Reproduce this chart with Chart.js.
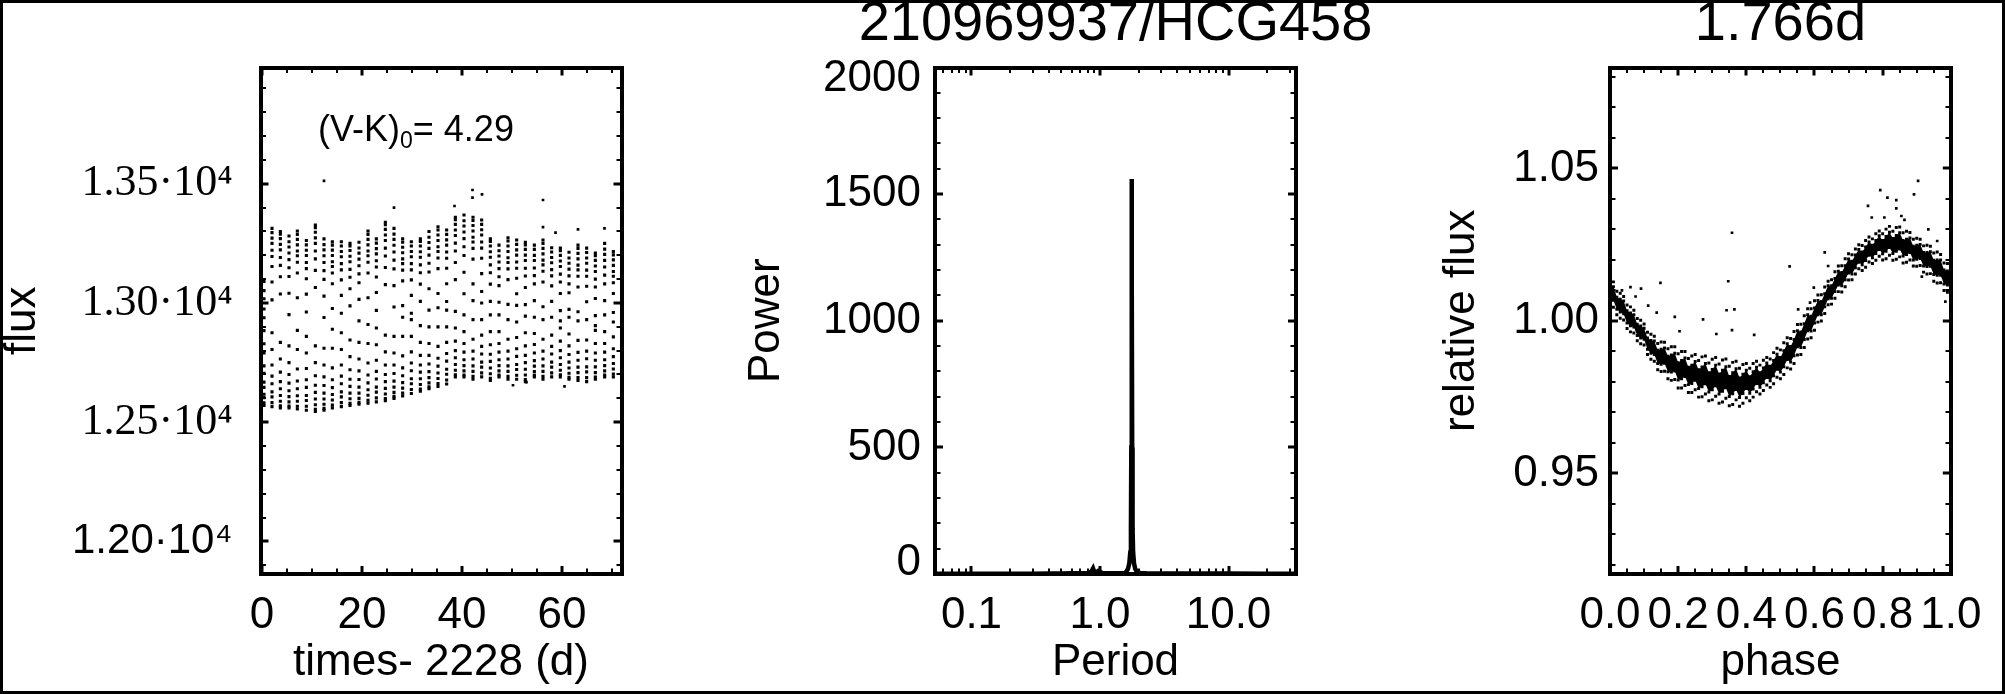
<!DOCTYPE html>
<html>
<head>
<meta charset="utf-8">
<script src="https://cdn.jsdelivr.net/npm/chart.js@4.4.1/dist/chart.umd.min.js"></script>
<style>
html,body{margin:0;padding:0;background:#fff;}
#fig{position:relative;width:2005px;height:694px;overflow:hidden;background:#fff;}
#fig canvas{position:absolute;top:0;}
#frame{position:absolute;left:0;top:0;width:2005px;height:694px;box-sizing:border-box;border:3px solid #000;pointer-events:none;}
#vk{position:absolute;left:318px;top:111px;font-family:'Liberation Sans',Arial,Helvetica,sans-serif;font-size:36px;line-height:36px;white-space:nowrap;color:#000;}
#vk span{font-size:23px;position:relative;top:7px;}
</style>
</head>
<body>
<div id="fig">
  <canvas id="c1" width="680" height="694" style="left:0px"></canvas>
  <canvas id="c2" width="871" height="694" style="left:680px"></canvas>
  <canvas id="c3" width="645" height="694" style="left:1360px"></canvas>
  <div id="vk">(V-K)<span>0</span>= 4.29</div>
  <div id="frame"></div>
</div>
<script>
// ---------------- Panel 1 : light curve (one column of dots per rotation cycle) ----------------
const lcTimes = [0.4, 2.0, 3.67, 5.4, 7.07, 8.87, 10.67, 12.4, 14.07, 15.87, 17.6, 19.4, 21.2, 22.87,
  24.67, 26.4, 28.13, 29.87, 31.67, 33.4, 35.2, 36.93, 38.67, 40.4, 42.2, 43.93, 45.67, 47.4,
  49.2, 50.93, 52.67, 54.47, 56.2, 57.93, 59.67, 61.4, 63.2, 64.93, 66.67, 68.53, 70.27];
const lcFlux = [
  [13090,13052,13018,12975,12938,12884,12829,12790,12736,12705,12668,12646,12617,12603,12581,12570],
  [13313,13295,13272,13250,13221,13195,13153,13088,13013,12875,12805,12740,12693,12661,12627,12606,12582,12565],
  [13300,13289,13270,13246,13223,13191,13158,13110,13038,12835,12765,12710,12670,12640,12612,12588,12569,12560],
  [13281,13257,13235,13210,13182,13148,13111,13041,12951,12820,12750,12700,12664,12632,12607,12585,12568,12560],
  [13302,13288,13267,13244,13218,13198,13171,13126,13022,12885,12805,12723,12673,12640,12611,12588,12567,12555],
  [13262,13244,13221,13199,13170,13144,13102,13037,12962,12860,12790,12725,12678,12646,12612,12591,12567,12550],
  [13327,13316,13297,13273,13250,13218,13185,13137,13065,12820,12750,12695,12655,12625,12597,12573,12554,12545],
  [13269,13245,13223,13198,13170,13136,13099,13029,12939,12810,12740,12690,12654,12622,12597,12575,12558,12550],
  [13257,13243,13222,13199,13173,13153,13126,13081,12977,12890,12810,12728,12678,12645,12616,12593,12572,12560],
  [13257,13239,13216,13194,13165,13139,13097,13032,12957,12875,12805,12740,12693,12661,12627,12606,12582,12565],
  [13250,13239,13220,13196,13173,13141,13108,13060,12988,12845,12775,12720,12680,12650,12622,12598,12579,12570],
  [13255,13231,13209,13184,13156,13122,13085,13015,12925,12835,12765,12715,12679,12647,12622,12600,12583,12575],
  [13302,13288,13267,13244,13218,13198,13171,13126,13022,12910,12830,12748,12698,12665,12636,12613,12592,12580],
  [13269,13251,13228,13206,13177,13151,13109,13044,12969,12895,12825,12760,12713,12681,12647,12626,12602,12585],
  [13339,13328,13309,13285,13262,13230,13197,13149,13077,12865,12795,12740,12700,12670,12642,12618,12599,12590],
  [13313,13289,13267,13242,13214,13180,13143,13073,12983,12860,12790,12740,12704,12672,12647,12625,12608,12600],
  [13269,13255,13234,13211,13185,13165,13138,13093,12989,12940,12860,12778,12728,12695,12666,12643,12622,12610],
  [13257,13239,13216,13194,13165,13139,13097,13032,12957,12930,12860,12795,12748,12716,12682,12661,12637,12620],
  [13269,13258,13239,13215,13192,13160,13127,13079,13007,12905,12835,12780,12740,12710,12682,12658,12639,12630],
  [13300,13276,13254,13229,13201,13167,13130,13060,12970,12900,12830,12780,12744,12712,12687,12665,12648,12640],
  [13320,13306,13285,13262,13236,13216,13189,13144,13040,12980,12900,12818,12768,12735,12706,12683,12662,12650],
  [13306,13288,13265,13243,13214,13188,13146,13081,13006,12970,12900,12835,12788,12756,12722,12701,12677,12660],
  [13360,13349,13330,13306,13283,13251,13218,13170,13098,12965,12895,12840,12800,12770,12742,12718,12699,12690],
  [13369,13345,13323,13298,13270,13236,13199,13129,13039,12950,12880,12830,12794,12762,12737,12715,12698,12690],
  [13360,13346,13325,13302,13276,13256,13229,13184,13080,13010,12930,12848,12798,12765,12736,12713,12692,12680],
  [13348,13330,13307,13285,13256,13230,13188,13123,13048,13000,12930,12865,12818,12786,12752,12731,12707,12690],
  [13269,13258,13239,13215,13192,13160,13127,13079,13007,12950,12880,12825,12785,12755,12727,12703,12684,12675],
  [13243,13219,13197,13172,13144,13110,13073,13003,12950,12880,12830,12794,12762,12737,12715,12698,12690],
  [13274,13260,13239,13216,13190,13170,13143,13098,12994,12930,12848,12798,12765,12736,12713,12692,12680],
  [13264,13246,13223,13201,13172,13146,13104,13039,12990,12920,12855,12808,12776,12742,12721,12697,12680],
  [13255,13244,13225,13201,13178,13146,13113,13065,12993,12945,12875,12820,12780,12750,12722,12698,12679,12670],
  [13243,13225,13200,13178,13147,13115,13080,13010,12940,12872,12826,12790,12758,12735,12712,12697,12690],
  [13264,13250,13229,13206,13180,13160,13133,13088,12984,12930,12848,12798,12765,12736,12713,12692,12680],
  [13232,13214,13191,13169,13140,13114,13072,13007,12940,12865,12818,12786,12752,12731,12707,12690],
  [13230,13219,13200,13176,13153,13121,13088,13040,12968,12925,12895,12840,12800,12770,12742,12718,12699,12690],
  [13213,13189,13167,13142,13114,13080,13043,12973,12940,12870,12820,12784,12752,12727,12705,12688,12680],
  [13243,13229,13208,13185,13159,13139,13112,13067,12963,12925,12843,12793,12760,12731,12708,12687,12675],
  [13230,13212,13189,13167,13138,13112,13070,13005,12930,12845,12798,12766,12732,12711,12687,12670],
  [13209,13198,13179,13155,13132,13100,13067,13019,12947,12905,12885,12830,12790,12760,12732,12708,12689,12680],
  [13250,13226,13204,13179,13151,13117,13080,13010,12950,12880,12830,12794,12762,12737,12715,12698,12690],
  [13216,13202,13181,13158,13132,13112,13085,13040,12960,12920,12858,12808,12775,12746,12723,12702,12690]
];
const lcOutlierT = [12.4, 26.4, 38.5, 42.1, 42.1, 44.0, 56.2, 56.2, 58.7, 63.2, 68.5, 50.2, 52.9, 60.5];
const lcOutlierF = [13512, 13400, 13407, 13474, 13442, 13456, 13432, 13318, 13295, 13309, 13313, 12655, 12668, 12650];

// ---------------- Panel 2 : periodogram ----------------
const periodX = [0.052, 0.07, 0.1, 0.15, 0.2, 0.3, 0.4, 0.5, 0.6, 0.7, 0.8, 0.85, 0.87, 0.883, 0.9, 0.93, 0.97, 1.0,
  1.05, 1.2, 1.4, 1.55, 1.60, 1.65, 1.69, 1.72, 1.74, 1.752, 1.76, 1.766, 1.772, 1.78, 1.792, 1.81, 1.84, 1.88, 1.94,
  2.05, 2.3, 3, 5, 10, 20, 33.5];
const powerY = [1, 1, 1, 1, 1, 1, 2, 2, 3, 3, 4, 8, 16, 22, 10, 6, 12, 8,
  4, 3, 3, 4, 8, 20, 42, 85, 180, 500, 1150, 1560, 1150, 500, 180, 85, 42, 20, 8,
  4, 3, 2, 2, 2, 1, 1];

// ---------------- Panel 3 : phased light curve ----------------
const phaseGrid = [0.00,0.01,0.02,0.03,0.04,0.05,0.06,0.07,0.08,0.09,0.10,0.11,0.12,0.13,0.14,0.15,0.16,0.17,0.18,0.19,
  0.20,0.21,0.22,0.23,0.24,0.25,0.26,0.27,0.28,0.29,0.30,0.31,0.32,0.33,0.34,0.35,0.36,0.37,0.38,0.39,
  0.40,0.41,0.42,0.43,0.44,0.45,0.46,0.47,0.48,0.49,0.50,0.51,0.52,0.53,0.54,0.55,0.56,0.57,0.58,0.59,
  0.60,0.61,0.62,0.63,0.64,0.65,0.66,0.67,0.68,0.69,0.70,0.71,0.72,0.73,0.74,0.75,0.76,0.77,0.78,0.79,
  0.80,0.81,0.82,0.83,0.84,0.85,0.86,0.87,0.88,0.89,0.90,0.91,0.92,0.93,0.94,0.95,0.96,0.97,0.98,0.99,1.00];
const phaseBand = [
  [1.0049,1.0072,1.0095,1.0118,1.0141],[1.0045,1.0068,1.0090,1.0112,1.0128],[1.0020,1.0038,1.0058,1.0078,1.0097],
  [1.0009,1.0029,1.0050,1.0071,1.0091],[1.0003,1.0023,1.0044,1.0065,1.0080],[0.9975,0.9993,1.0013,1.0033,1.0052],
  [0.9964,0.9984,1.0005,1.0026,1.0046],[0.9960,0.9980,1.0000,1.0020,1.0035],[0.9935,0.9952,0.9971,0.9989,1.0008],
  [0.9925,0.9944,0.9964,0.9983,1.0002],[0.9921,0.9940,0.9958,0.9976,0.9990],[0.9890,0.9907,0.9926,0.9944,0.9963],
  [0.9874,0.9894,0.9915,0.9936,0.9956],[0.9868,0.9890,0.9912,0.9934,0.9950],[0.9840,0.9860,0.9882,0.9904,0.9926],
  [0.9834,0.9858,0.9883,0.9907,0.9931],[0.9835,0.9861,0.9886,0.9911,0.9930],[0.9810,0.9833,0.9858,0.9884,0.9909],
  [0.9805,0.9832,0.9860,0.9888,0.9915],[0.9808,0.9836,0.9865,0.9894,0.9915],[0.9780,0.9806,0.9835,0.9863,0.9892],
  [0.9780,0.9810,0.9840,0.9870,0.9900],[0.9788,0.9818,0.9848,0.9878,0.9900],[0.9765,0.9791,0.9820,0.9848,0.9877],
  [0.9765,0.9795,0.9825,0.9855,0.9885],[0.9774,0.9805,0.9836,0.9867,0.9890],[0.9750,0.9778,0.9809,0.9840,0.9870],
  [0.9751,0.9784,0.9817,0.9849,0.9882],[0.9760,0.9794,0.9827,0.9860,0.9885],[0.9738,0.9767,0.9798,0.9830,0.9862],
  [0.9741,0.9774,0.9808,0.9841,0.9874],[0.9753,0.9787,0.9821,0.9855,0.9880],[0.9730,0.9760,0.9793,0.9826,0.9859],
  [0.9734,0.9769,0.9803,0.9838,0.9872],[0.9746,0.9781,0.9815,0.9850,0.9875],[0.9722,0.9752,0.9785,0.9818,0.9851],
  [0.9726,0.9761,0.9795,0.9830,0.9864],[0.9741,0.9775,0.9809,0.9843,0.9868],[0.9720,0.9749,0.9781,0.9813,0.9845],
  [0.9730,0.9762,0.9794,0.9825,0.9857],[0.9748,0.9778,0.9808,0.9838,0.9860],[0.9738,0.9763,0.9790,0.9817,0.9845],
  [0.9750,0.9777,0.9805,0.9833,0.9860],[0.9768,0.9795,0.9822,0.9848,0.9868],[0.9760,0.9782,0.9806,0.9830,0.9855],
  [0.9772,0.9797,0.9822,0.9846,0.9871],[0.9790,0.9814,0.9838,0.9862,0.9880],[0.9782,0.9804,0.9827,0.9851,0.9875],
  [0.9794,0.9820,0.9845,0.9870,0.9896],[0.9815,0.9841,0.9866,0.9891,0.9910],[0.9810,0.9832,0.9856,0.9880,0.9905],
  [0.9824,0.9850,0.9876,0.9902,0.9928],[0.9846,0.9873,0.9899,0.9925,0.9945],[0.9842,0.9865,0.9891,0.9916,0.9942],
  [0.9860,0.9886,0.9913,0.9939,0.9965],[0.9888,0.9915,0.9942,0.9968,0.9988],[0.9890,0.9913,0.9938,0.9964,0.9989],
  [0.9913,0.9939,0.9965,0.9991,1.0017],[0.9941,0.9968,0.9994,1.0020,1.0040],[0.9945,0.9967,0.9991,1.0015,1.0040],
  [0.9969,0.9993,1.0018,1.0042,1.0066],[0.9996,1.0020,1.0044,1.0067,1.0085],[1.0000,1.0020,1.0042,1.0064,1.0086],
  [1.0024,1.0046,1.0068,1.0089,1.0111],[1.0053,1.0073,1.0094,1.0115,1.0130],[1.0055,1.0074,1.0094,1.0115,1.0135],
  [1.0074,1.0096,1.0118,1.0139,1.0161],[1.0096,1.0118,1.0141,1.0163,1.0180],[1.0095,1.0115,1.0137,1.0159,1.0181],
  [1.0112,1.0135,1.0158,1.0181,1.0204],[1.0134,1.0157,1.0180,1.0203,1.0220],[1.0135,1.0154,1.0175,1.0196,1.0217],
  [1.0154,1.0174,1.0195,1.0216,1.0236],[1.0171,1.0192,1.0213,1.0234,1.0250],[1.0165,1.0184,1.0205,1.0226,1.0247],
  [1.0176,1.0198,1.0220,1.0242,1.0264],[1.0193,1.0215,1.0237,1.0259,1.0275],[1.0188,1.0207,1.0227,1.0248,1.0269],
  [1.0199,1.0221,1.0243,1.0264,1.0286],[1.0212,1.0234,1.0256,1.0279,1.0295],[1.0200,1.0220,1.0242,1.0264,1.0286],
  [1.0204,1.0228,1.0253,1.0277,1.0301],[1.0215,1.0241,1.0266,1.0291,1.0310],[1.0199,1.0221,1.0246,1.0270,1.0294],
  [1.0202,1.0228,1.0254,1.0280,1.0306],[1.0210,1.0236,1.0262,1.0289,1.0308],[1.0190,1.0213,1.0238,1.0264,1.0289],
  [1.0192,1.0218,1.0243,1.0268,1.0294],[1.0200,1.0224,1.0248,1.0272,1.0290],[1.0180,1.0200,1.0223,1.0245,1.0268],
  [1.0179,1.0202,1.0225,1.0248,1.0271],[1.0182,1.0205,1.0228,1.0251,1.0268],[1.0160,1.0180,1.0202,1.0224,1.0246],
  [1.0154,1.0178,1.0201,1.0224,1.0248],[1.0155,1.0179,1.0203,1.0227,1.0245],[1.0130,1.0152,1.0175,1.0199,1.0223],
  [1.0124,1.0150,1.0175,1.0200,1.0226],[1.0125,1.0150,1.0175,1.0200,1.0218],[1.0100,1.0121,1.0144,1.0167,1.0190],
  [1.0094,1.0118,1.0141,1.0164,1.0188],[1.0094,1.0117,1.0140,1.0163,1.0180]
];
const phOutX = [0.358, 0.904, 0.793, 0.814, 0.840, 0.892, 0.757, 0.840, 0.527, 0.630, 0.347, 0.148, 0.060, 0.091,
  0.365, 0.342, 0.190, 0.273, 0.112, 0.358, 0.423, 0.312, 0.204, 0.137, 0.552, 0.598, 0.587, 0.640, 0.768,
  0.805, 0.855, 0.864, 0.934, 0.960, 0.915, 0.984, 0.035, 0.075];
const phOutY = [1.0289, 1.0459, 1.0429, 1.0404, 1.0396, 1.0415, 1.0377, 1.0369, 1.0179, 1.0225, 1.0130, 1.0125, 1.0111, 1.0106,
  1.0038, 1.0035, 1.0013, 1.0005, 1.0050, 0.9970, 0.9954, 0.9957, 0.9966, 1.0027, 1.0038, 1.0109, 1.0060, 1.0180, 1.0339,
  1.0339, 1.0344, 1.0331, 1.0300, 1.0262, 1.0145, 1.0063, 1.0100, 1.0080];

// ---------------- Tick values and labels ----------------
const p1XMajor = [0, 20, 40, 60];
const p1XLabels = ['0', '20', '40', '60'];
const p1XMinor = [5, 10, 15, 25, 30, 35, 45, 50, 55, 65, 70];
const p1YMajor = [12000, 12500, 13000, 13500];
const p1YLabels = ['1.20\u00B710\u2074', '1.25\u00B710\u2074', '1.30\u00B710\u2074', '1.35\u00B710\u2074'];
const p1YMinor = [11900, 12100, 12200, 12300, 12400, 12600, 12700, 12800, 12900, 13100, 13200, 13300, 13400, 13600, 13700, 13800, 13900];

const p2XMajor = [0.1, 1, 10];
const p2XLabels = ['0.1', '1.0', '10.0'];
const p2XMinor = [0.06, 0.07, 0.08, 0.09, 0.2, 0.3, 0.4, 0.5, 0.6, 0.7, 0.8, 0.9, 2, 3, 4, 5, 6, 7, 8, 9, 20, 30];
const p2YMajor = [0, 500, 1000, 1500, 2000];
const p2YLabels = [['0', ''], '500', '1000', '1500', ['', '2000']];
const p2YMinor = [100, 200, 300, 400, 600, 700, 800, 900, 1100, 1200, 1300, 1400, 1600, 1700, 1800, 1900];

const p3XMajor = [0, 0.2, 0.4, 0.6, 0.8, 1.0];
const p3XLabels = ['0.0', '0.2', '0.4', '0.6', '0.8', '1.0'];
const p3XMinor = [0.05, 0.1, 0.15, 0.25, 0.3, 0.35, 0.45, 0.5, 0.55, 0.65, 0.7, 0.75, 0.85, 0.9, 0.95];
const p3YMajor = [0.95, 1.00, 1.05];
const p3YLabels = ['0.95', '1.00', '1.05'];
const p3YMinor = [0.92, 0.93, 0.94, 0.96, 0.97, 0.98, 0.99, 1.01, 1.02, 1.03, 1.04, 1.06, 1.07, 1.08];

// ---------------- Helpers (styling only) ----------------
const SANS = "'Liberation Sans', Arial, Helvetica, sans-serif";
const SERIF = "'Liberation Serif', 'Times New Roman', Times, serif";
const TICK_LEN = 8, BORDER_W = 4, MINOR_VIS = 3.5;
const keyOf = v => String(Math.round(v * 1e6) / 1e6);

function edgeScale(o) {
  const labelMap = new Map();
  o.majors.forEach((v, i) => labelMap.set(keyOf(v), o.labels ? o.labels[i] : ''));
  const outerFirst = (o.position === 'bottom' || o.position === 'right');
  const total = TICK_LEN + BORDER_W / 2;
  const minorOn = BORDER_W + MINOR_VIS;
  const isMinor = c => !!(c && c.tick && c.tick.minor);
  return {
    type: o.type || 'linear',
    position: o.position,
    min: o.min, max: o.max,
    border: {display: true, width: BORDER_W, color: '#000'},
    grid: {
      display: true, drawOnChartArea: false, drawTicks: true,
      tickLength: -TICK_LEN, lineWidth: BORDER_W, color: 'rgba(0,0,0,0)', tickColor: '#000',
      tickWidth: c => isMinor(c) ? 2 : 3,
      tickBorderDash: c => isMinor(c) ? (outerFirst ? [minorOn, 100] : [minorOn, total - minorOn]) : [],
      tickBorderDashOffset: c => (isMinor(c) && !outerFirst) ? minorOn : 0
    },
    ticks: {
      display: !!o.showLabels, autoSkip: false, maxRotation: 0, minRotation: 0,
      padding: o.tickPad || 0, color: '#000',
      font: o.tickFont || {family: SANS, size: 44, lineHeight: 1.2},
      callback: v => { const k = keyOf(v); return labelMap.has(k) ? labelMap.get(k) : ''; }
    },
    title: o.title || {display: false},
    afterBuildTicks: s => {
      s.ticks = o.majors.map(v => ({value: v})).concat(o.minors.map(v => ({value: v, minor: true})))
        .sort((a, b) => a.value - b.value);
    },
    afterFit: s => { if (s.isHorizontal()) s.height = o.size; else s.width = o.size; }
  };
}

function axisTitle(text, pad) {
  return {display: true, text: text, color: '#000', font: {family: SANS, size: 44, lineHeight: 1.2}, padding: pad};
}

function baseOptions(padding, scales, title, fullSizeTitle) {
  return {
    responsive: false, maintainAspectRatio: false, animation: false, devicePixelRatio: 1, events: [],
    layout: {padding: padding},
    plugins: {
      legend: {display: false}, tooltip: {enabled: false},
      title: title ? {display: true, text: title, color: '#000', fullSize: !!fullSizeTitle,
        font: {family: SANS, size: 56, weight: 'normal', lineHeight: 1}, padding: {top: -3, bottom: 14.5}} : {display: false}
    },
    scales: scales
  };
}

const dotStyle = {showLine: false, pointStyle: 'rect', pointRadius: 1.9, pointBorderWidth: 0,
  pointBackgroundColor: '#000', backgroundColor: '#000', borderColor: '#000', borderWidth: 0};

// ---------------- Chart 1 ----------------
const p1Points = [];
lcTimes.forEach((t, i) => lcFlux[i].forEach(f => p1Points.push({x: t, y: f})));
const p1Out = lcOutlierT.map((t, i) => ({x: t, y: lcOutlierF[i]}));
const p1Dots = Object.assign({}, dotStyle, {pointRadius: 2.2});

new Chart(document.getElementById('c1'), {
  type: 'line',
  data: {datasets: [
    Object.assign({data: p1Points}, p1Dots),
    Object.assign({data: p1Out}, dotStyle)
  ]},
  options: baseOptions({left: 0, right: 58.5, top: 67.5, bottom: 0}, {
    x: edgeScale({position: 'bottom', min: -0.3, max: 71.9, majors: p1XMajor, labels: p1XLabels, minors: p1XMinor,
      showLabels: true, tickPad: 23.6, size: 120,
      title: axisTitle('times- 2228 (d)', {top: 0, bottom: 4.6})}),
    y: edgeScale({position: 'left', min: 11863, max: 13988, majors: p1YMajor, labels: p1YLabels, minors: p1YMinor,
      showLabels: true, tickPad: 36, size: 260.5,
      tickFont: c => (c && c.tick && c.tick.value === 12000)
        ? {family: SANS, size: 42, lineHeight: 1.2} : {family: SERIF, size: 44, lineHeight: 1.2},
      title: axisTitle('flux', {top: -4, bottom: 0})}),
    xTop: edgeScale({position: 'top', min: -0.3, max: 71.9, majors: p1XMajor, minors: p1XMinor, size: 0}),
    yRight: edgeScale({position: 'right', min: 11863, max: 13988, majors: p1YMajor, minors: p1YMinor, size: 0})
  })
});

// ---------------- Chart 2 ----------------
const p2Line = periodX.map((p, i) => ({x: p, y: powerY[i]}));
new Chart(document.getElementById('c2'), {
  type: 'line',
  data: {datasets: [{data: p2Line, borderColor: '#000', borderWidth: 4.5, pointRadius: 0, tension: 0, fill: false,
    borderJoinStyle: 'miter'}]},
  options: baseOptions({left: 0, right: 0, top: 0, bottom: 0}, {
    x: edgeScale({type: 'logarithmic', position: 'bottom', min: 0.052, max: 33.5, majors: p2XMajor, labels: p2XLabels,
      minors: p2XMinor, showLabels: true, tickPad: 23.6, size: 120,
      title: axisTitle('Period', {top: 0, bottom: 4.6})}),
    y: edgeScale({position: 'left', min: 0, max: 2000, majors: p2YMajor, labels: p2YLabels, minors: p2YMinor,
      showLabels: true, tickPad: 22, size: 255,
      tickFont: {family: SANS, size: 44, lineHeight: 0.5},
      title: axisTitle('Power', {top: 60, bottom: 0})}),
    xTop: edgeScale({type: 'logarithmic', position: 'top', min: 0.052, max: 33.5, majors: p2XMajor, minors: p2XMinor, size: 0}),
    yRight: edgeScale({position: 'right', min: 0, max: 2000, majors: p2YMajor, minors: p2YMinor, size: 255})
  }, '210969937/HCG458', true)
});

// ---------------- Chart 3 ----------------
const p3Points = [];
phaseGrid.forEach((ph, i) => phaseBand[i].forEach(f => p3Points.push({x: ph, y: f})));
const p3Out = phOutX.map((ph, i) => ({x: ph, y: phOutY[i]}));
const p3Low = phaseGrid.map((ph, i) => ({x: ph, y: phaseBand[i][1]}));
const p3High = phaseGrid.map((ph, i) => ({x: ph, y: phaseBand[i][3]}));
const p3Dots = Object.assign({}, dotStyle, {pointRadius: 2.1});
new Chart(document.getElementById('c3'), {
  type: 'line',
  data: {datasets: [
    Object.assign({data: p3Points}, p3Dots),
    Object.assign({data: p3Out}, dotStyle),
    {data: p3Low, showLine: true, borderWidth: 0, pointRadius: 0, fill: false, tension: 0, borderColor: 'rgba(0,0,0,0)'},
    {data: p3High, showLine: true, borderWidth: 0, pointRadius: 0, fill: '-1', tension: 0,
      borderColor: 'rgba(0,0,0,0)', backgroundColor: '#000'}
  ]},
  options: baseOptions({left: 0, right: 34, top: 0, bottom: 0}, {
    x: edgeScale({position: 'bottom', min: 0, max: 1, majors: p3XMajor, labels: p3XLabels, minors: p3XMinor,
      showLabels: true, tickPad: 23.6, size: 120,
      title: axisTitle('phase', {top: 0, bottom: 4.6})}),
    y: edgeScale({position: 'left', min: 0.917, max: 1.0831, majors: p3YMajor, labels: p3YLabels, minors: p3YMinor,
      showLabels: true, tickPad: 19, size: 250,
      title: axisTitle('relative flux', {top: 75, bottom: 0})}),
    xTop: edgeScale({position: 'top', min: 0, max: 1, majors: p3XMajor, minors: p3XMinor, size: 0}),
    yRight: edgeScale({position: 'right', min: 0.917, max: 1.0831, majors: p3YMajor, minors: p3YMinor, size: 0})
  }, '1.766d', false)
});
</script>
</body>
</html>
